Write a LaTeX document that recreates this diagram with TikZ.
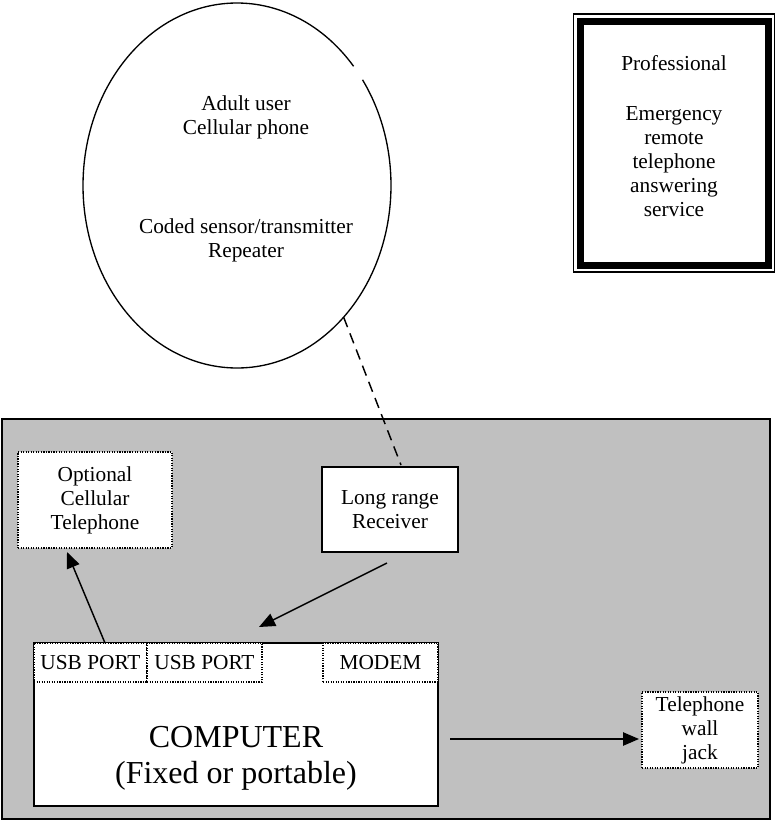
\documentclass[tikz,border=0pt]{standalone}
\usepackage{fontspec}
\setmainfont{Liberation Serif}
\usetikzlibrary{arrows.meta,calc,shapes.geometric}
\definecolor{bggray}{RGB}{192,192,192}
\begin{document}
\begin{tikzpicture}[x=0.75pt,y=-0.75pt,
  txt/.style={font=\fontsize{16}{18}\selectfont, align=center, inner sep=0pt},
  solidbox/.style={draw, line width=1pt, fill=white, inner sep=0pt, outer sep=0pt, font=\fontsize{16}{18}\selectfont, align=center},
  dotbox/.style={draw, line width=0.9pt, densely dotted, fill=white, inner sep=0pt, outer sep=0pt, font=\fontsize{16}{18}\selectfont, align=center},
  arr/.style={line width=1.1pt, -{Triangle[length=12pt,width=10pt]}},
]
\useasboundingbox (0,0) rectangle (775,822);
% gray area
\node[draw, line width=1.1pt, fill=bggray, minimum width=576pt, minimum height=300pt, inner sep=0pt, outer sep=0pt] (area) at (386,619) {};
% ellipse
\node[ellipse, minimum width=231pt, minimum height=273.75pt, inner sep=0pt, outer sep=0pt] (user) at (237,185.5) {};
\draw[line width=1pt] (user.center) ++(40.8:115.5pt and 136.875pt) arc[start angle=40.8, end angle=395.4, x radius=115.5pt, y radius=136.875pt];
\node[txt] (usertxt) at (246,117) {Adult user\\Cellular phone};
\node[txt] (sensortxt) at (246,240) {Coded sensor/transmitter\\Repeater};
% professional box
\node[draw, line width=5.25pt, minimum width=141pt, minimum height=183pt, inner sep=0pt, outer sep=0pt] (prof) at (674.5,143) {};
\draw[line width=0.8pt] ($(prof.north west)+(-7,-7)$) rectangle ($(prof.south east)+(6,7)$);
\node[txt] (proftxt) at (674,136) {Professional\\[20pt]Emergency\\remote\\telephone\\answering\\service};
% boxes
\node[solidbox, minimum width=102pt, minimum height=63.75pt] (recv) at (390,509.5) {Long range\\Receiver};
\node[dotbox, minimum width=115.5pt, minimum height=72pt] (opt) at (95,500) {Optional\\Cellular\\Telephone};
\node[solidbox, minimum width=303pt, minimum height=122.25pt] (comp) at (236,724.5) {};
\node[font=\fontsize{24}{27}\selectfont, align=center, inner sep=0pt] (comptxt) at (236,758) {COMPUTER\\(Fixed or portable)};
\node[dotbox, minimum width=84.75pt, minimum height=29.25pt] (usb1) at (90.5,662.5) {USB PORT};
\node[dotbox, minimum width=86.25pt, minimum height=29.25pt] (usb2) at (204.5,662.5) {USB PORT};
\node[dotbox, minimum width=86.25pt, minimum height=29.25pt] (modem) at (380.5,662.5) {MODEM};
\node[dotbox, minimum width=87pt, minimum height=57pt] (jack) at (700,730) {Telephone\\wall\\jack};
% connectors
\draw[line width=1.1pt, dash pattern=on 8pt off 5pt] (user.-51.3) -- ($(recv.north)+(11,-2)$);
\draw[arr] ($(usb1.north)+(14.5,0)$) -- ($(opt.south)+(-28,4)$);
\draw[arr] ($(recv.south)+(-3,11)$) -- ($(usb2.north east)+(-3,-16)$);
\draw[arr] ($(comp.east)+(12,14.5)$) -- ($(jack.west)+(-3,9)$);
\end{tikzpicture}
\end{document}
